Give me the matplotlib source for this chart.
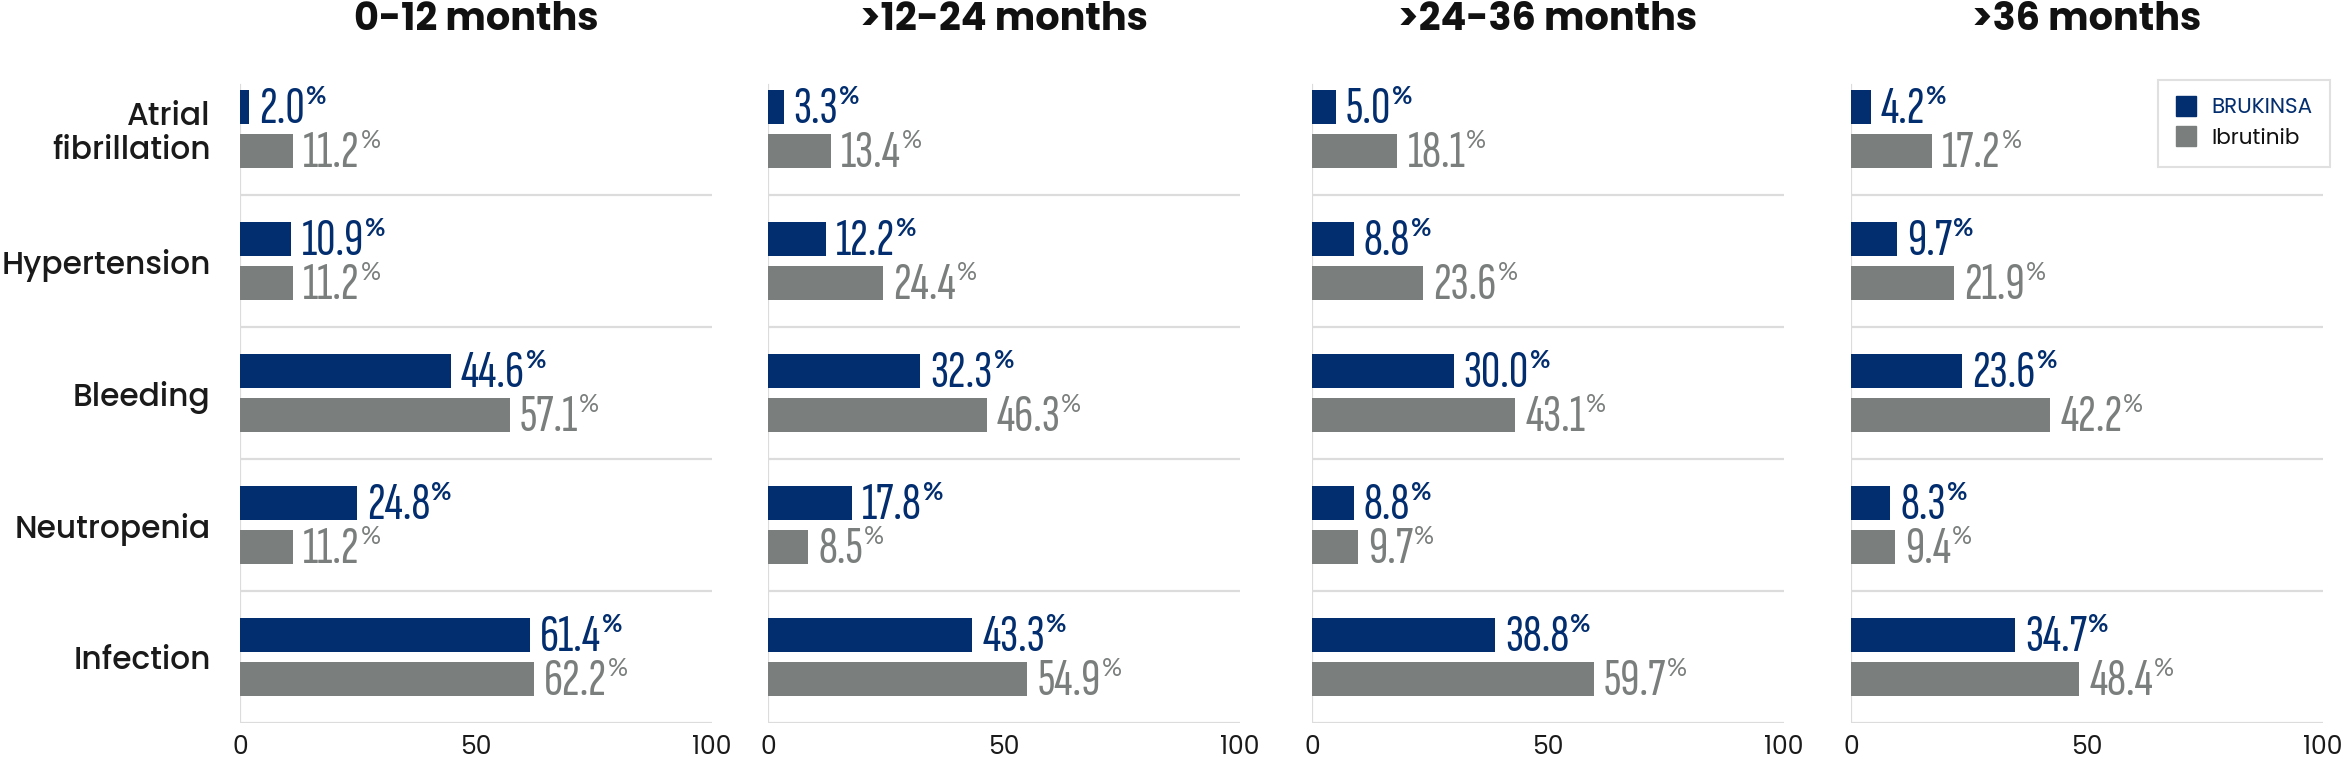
import matplotlib
matplotlib.use('Agg')
import matplotlib.pyplot as plt
import numpy as np
from matplotlib.lines import Line2D

# data (percent of patients)
periods = ['0-12 months', '>12-24 months', '>24-36 months', '>36 months']
categories = ['Atrial\nfibrillation', 'Hypertension', 'Bleeding', 'Neutropenia', 'Infection']
brukinsa = [
    [2.0, 10.9, 44.6, 24.8, 61.4],
    [3.3, 12.2, 32.3, 17.8, 43.3],
    [5.0, 8.8, 30.0, 8.8, 38.8],
    [4.2, 9.7, 23.6, 8.3, 34.7],
]
ibrutinib = [
    [11.2, 11.2, 57.1, 11.2, 62.2],
    [13.4, 24.4, 46.3, 8.5, 54.9],
    [18.1, 23.6, 43.1, 9.7, 59.7],
    [17.2, 21.9, 42.2, 9.4, 48.4],
]
xticks = [0, 50, 100]

NAVY = '#022d6e'
GREY = '#7a7e7d'
LINE = '#dcdcdc'

label_font = ['Poppins', 'Lato', 'DejaVu Sans']
num_font = ['Sofia Sans Extra Condensed', 'Antonio', 'Oswald', 'DejaVu Sans']
pct_font = ['Lato', 'DejaVu Sans']

W, H = 2345, 760
fig = plt.figure(figsize=(W / 100, H / 100), dpi=100)

# panel placement in pixels
lefts = [240, 768, 1312, 1851]
pw = 472
top_px, bot_px = 63, 723

bar_h = 0.255
off = 0.167

y = np.arange(len(categories))
axes = []
for i, period in enumerate(periods):
    ax = fig.add_axes([lefts[i] / W, (H - bot_px) / H, pw / W, (bot_px - top_px) / H])
    axes.append(ax)
    ax.barh(y - off, brukinsa[i], height=bar_h, color=NAVY, zorder=3)
    ax.barh(y + off, ibrutinib[i], height=bar_h, color=GREY, zorder=3)
    ax.set_xlim(0, 100)
    ax.set_ylim(len(categories) - 0.5, -0.5)
    for s in ax.spines.values():
        s.set_visible(False)
    # light separators between the categories
    for b in np.arange(0.5, len(categories) + 0.5, 1.0):
        ax.axhline(b, color=LINE, lw=1.6, zorder=1)
    ax.axvline(0, ymin=0, ymax=0.967, color=LINE, lw=1.6, zorder=2)
    ax.set_xticks(xticks)
    ax.set_xticklabels([str(t) for t in xticks], family=label_font, fontsize=18, color='#1a1a1a')
    ax.tick_params(axis='x', length=0, pad=9)
    ax.set_yticks(y)
    if i == 0:
        ax.set_yticklabels(categories, family=label_font, fontsize=22.5, color='#1a1a1a',
                           fontweight='medium', linespacing=1.1)
        ax.tick_params(axis='y', length=0, pad=21)
    else:
        ax.set_yticklabels([])
        ax.tick_params(axis='y', length=0)
    fig.text((lefts[i] + pw / 2) / W, 1 - 20 / H, period, ha='center', va='center',
             family=label_font, fontsize=27.5, fontweight='bold', color='#111111')

fig.canvas.draw()
renderer = fig.canvas.get_renderer()

for i, ax in enumerate(axes):
    for series, sign, col, wt in ((brukinsa[i], -1, NAVY, 'semibold'), (ibrutinib[i], 1, GREY, 'normal')):
        for yi, v in zip(y, series):
            t = ax.annotate(f'{v:.1f}', xy=(v, yi + sign * off), xytext=(10, -16),
                            textcoords='offset pixels', ha='left', va='baseline',
                            family=num_font, fontsize=38.5, fontweight=wt, color=col)
            bb = t.get_window_extent(renderer)
            ax0 = ax.transData.transform((v, yi + sign * off))
            ax.annotate('%', xy=(v, yi + sign * off), xytext=(bb.x1 - ax0[0] + 1, 22),
                        textcoords='offset pixels', ha='left', va='top',
                        family=pct_font, fontsize=18, color=col,
                        fontweight='bold' if sign < 0 else 'normal')

handles = [Line2D([], [], marker='s', ls='none', markersize=14.5, color=NAVY),
           Line2D([], [], marker='s', ls='none', markersize=14.5, color=GREY)]
leg = fig.legend(handles, ['BRUKINSA', 'Ibrutinib'], loc='upper right',
                 bbox_to_anchor=(2330 / W, 1 - 80 / H), frameon=True, fancybox=False,
                 prop={'family': label_font, 'size': 15.5}, handletextpad=0.7,
                 borderpad=0.8, labelspacing=0.4, handlelength=1.0, borderaxespad=0)
leg.get_frame().set_edgecolor('#d9d9d9')
leg.get_frame().set_linewidth(1.5)
leg.get_texts()[0].set_color(NAVY)
leg.get_texts()[1].set_color('#111111')

fig.savefig('out.png', dpi=100)
